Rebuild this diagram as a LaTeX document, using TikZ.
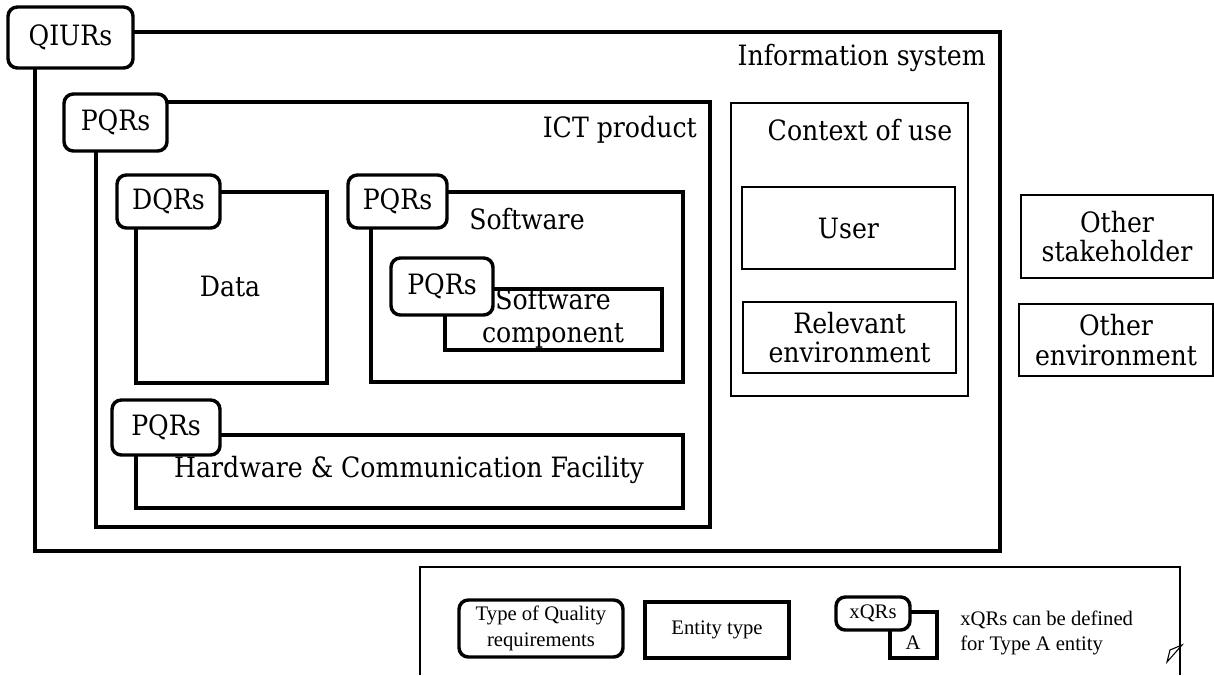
\documentclass[tikz,border=0pt]{standalone}
\usepackage{fontspec}
\setmainfont{DejaVu Serif Condensed}
\newfontfamily\legendfont{Liberation Serif}
\usetikzlibrary{fit,positioning}

\tikzset{
  entity/.style={draw, line width=2.6pt, inner sep=0pt},
  thinbox/.style={draw, line width=0.9pt, inner sep=0pt},
  qrtag/.style={draw, line width=2.6pt, rounded corners=7pt, fill=white, inner sep=0pt},
  lbl/.style={inner sep=0pt, align=center, font=\fontsize{21}{22}\selectfont},
  legtext/.style={inner sep=0pt, align=center, font=\legendfont\fontsize{15.5}{19}\selectfont}
}

\begin{document}
\begin{tikzpicture}[x=0.75pt, y=-0.75pt]
  \useasboundingbox (0,0) rectangle (1214,675);

  % information system
  \node[entity, fit={(35,32) (1000,551)}] (infosys) {};
  \node[qrtag, fit={(8,7) (133,68)}] (qiurs) {};
  \node[lbl] (qiurslbl) at (qiurs.center) {QIURs};
  \node[lbl, anchor=east] (infosyslbl) at (986,58) {Information system};

  % ICT product
  \node[entity, fit={(96,102) (710,527)}] (ict) {};
  \node[qrtag, fit={(64,94) (167,151)}] (ictqr) {};
  \node[lbl] (ictqrlbl) at (ictqr.center) {PQRs};
  \node[lbl, anchor=east] (ictlbl) at (697,130) {ICT product};

  % data
  \node[entity, fit={(136,192) (327,383)}] (data) {};
  \node[lbl] (datalbl) at (230,286) {Data};
  \node[qrtag, fit={(117,175) (220,228)}] (dqrs) {};
  \node[lbl] (dqrslbl) at (dqrs.center) {DQRs};

  % software
  \node[entity, fit={(371,192) (683,382)}] (sw) {};
  \node[qrtag, fit={(348,175) (447,228)}] (swqr) {};
  \node[lbl] (swqrlbl) at (swqr.center) {PQRs};
  \node[lbl] (swlbl) at (527,219) {Software};
  \node[entity, fit={(445,289) (662,350)}] (comp) {};
  \node[qrtag, fit={(391,258) (493,315)}] (compqr) {};
  \node[lbl] (compqrlbl) at (compqr.center) {PQRs};
  \node[lbl, font=\fontsize{21}{25}\selectfont] (complbl) at (553,318) {Software\\component};

  % hardware
  \node[entity, fit={(136,435) (683,508)}] (hw) {};
  \node[qrtag, fit={(112,400) (220,455)}] (hwqr) {};
  \node[lbl] (hwqrlbl) at (hwqr.center) {PQRs};
  \node[lbl] (hwlbl) at (409,470) {Hardware \& Communication Facility};

  % context of use
  \node[thinbox, fit={(731,103) (968,396)}] (ctx) {};
  \node[lbl] (ctxlbl) at (860,130) {Context of use};
  \node[thinbox, fit={(742,187) (955,269)}] (user) {};
  \node[lbl] (userlbl) at (user.center) {User};
  \node[thinbox, fit={(743,302) (956,373)}] (relenv) {};
  \node[lbl] (relenvlbl) at (relenv.center) {Relevant\\environment};

  % outside
  \node[thinbox, fit={(1021,195) (1213,278)}] (stake) {};
  \node[lbl] (stakelbl) at (stake.center) {Other\\stakeholder};
  \node[thinbox, fit={(1019,304) (1213,376)}] (othenv) {};
  \node[lbl] (othenvlbl) at (othenv.center) {Other\\environment};

  % legend
  \coordinate (legsw) at (420,675);
  \coordinate (legnw) at (420,567);
  \coordinate (legne) at (1180,567);
  \coordinate (legse) at (1180,675);
  \draw[line width=0.9pt] (legsw) -- (legnw) -- (legne) -- (legse);
  \draw[line width=0.8pt] (1167,662) -- (1170,650) -- (1182,645) -- cycle;

  \node[qrtag, fit={(459,600) (623,657)}] (legqr) {};
  \node[legtext] (legqrlbl) at (legqr.center) {Type of Quality\\requirements};
  \node[entity, fit={(645,602) (789,658)}] (legent) {};
  \node[legtext] (legentlbl) at (legent.center) {Entity type};
  \node[entity, fit={(890,612) (937,658)}] (lega) {};
  \node[legtext] (legalbl) at (913,643) {A};
  \node[qrtag, fit={(836,597) (910,630)}] (legx) {};
  \node[legtext] (legxlbl) at (legx.center) {xQRs};
  \node[legtext, anchor=west, align=left] (legnote) at (960,633) {xQRs can be defined\\for Type A entity};
\end{tikzpicture}
\end{document}
